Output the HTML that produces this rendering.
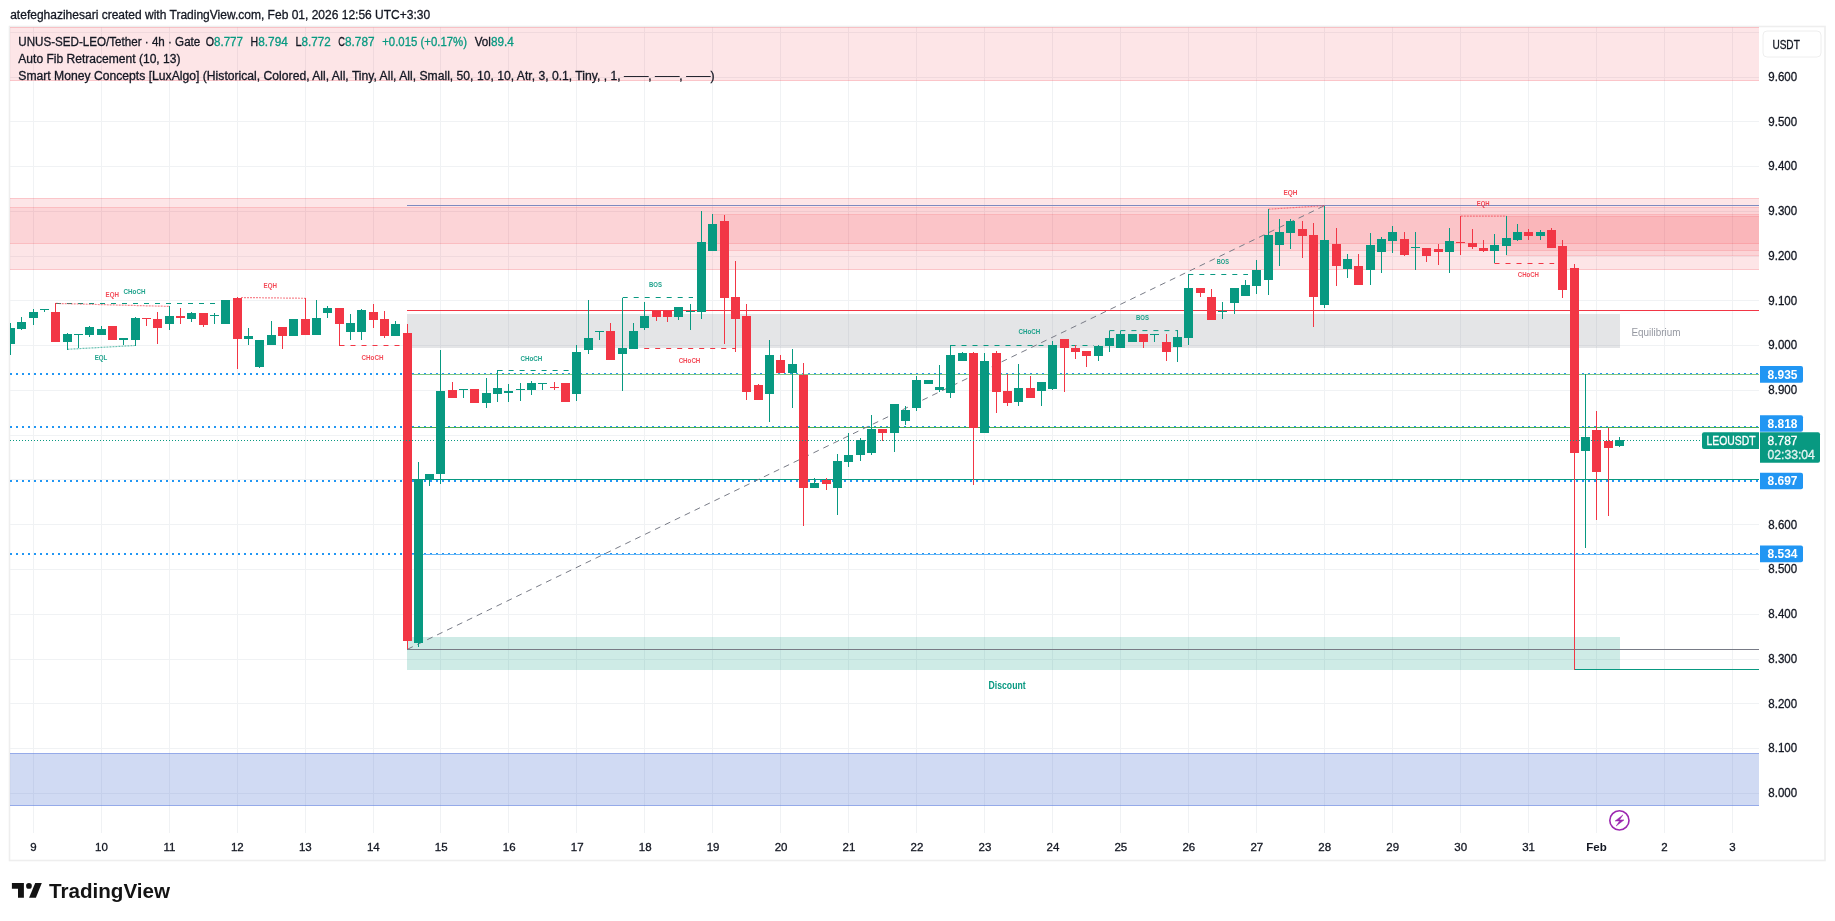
<!DOCTYPE html>
<html><head><meta charset="utf-8"><title>TradingView LEOUSDT</title>
<style>
html,body{margin:0;padding:0;background:#ffffff;width:1835px;height:921px;overflow:hidden;}
svg text{font-family:"Liberation Sans",sans-serif;}
svg{will-change:transform;}
</style></head><body>
<svg width="1835" height="921" viewBox="0 0 1835 921" style="position:absolute;left:0;top:0">
<defs><clipPath id="cl"><rect x="10" y="27" width="1749" height="806"/></clipPath></defs>
<rect x="9.5" y="26.5" width="1815.5" height="834" fill="none" stroke="#eeeeee" stroke-width="1.6"/>
<g clip-path="url(#cl)" shape-rendering="crispEdges">
<rect x="33" y="27" width="1" height="806" fill="#f0f2f4"/>
<rect x="101" y="27" width="1" height="806" fill="#f0f2f4"/>
<rect x="169" y="27" width="1" height="806" fill="#f0f2f4"/>
<rect x="237" y="27" width="1" height="806" fill="#f0f2f4"/>
<rect x="305" y="27" width="1" height="806" fill="#f0f2f4"/>
<rect x="373" y="27" width="1" height="806" fill="#f0f2f4"/>
<rect x="440" y="27" width="1" height="806" fill="#f0f2f4"/>
<rect x="508" y="27" width="1" height="806" fill="#f0f2f4"/>
<rect x="576" y="27" width="1" height="806" fill="#f0f2f4"/>
<rect x="644" y="27" width="1" height="806" fill="#f0f2f4"/>
<rect x="712" y="27" width="1" height="806" fill="#f0f2f4"/>
<rect x="780" y="27" width="1" height="806" fill="#f0f2f4"/>
<rect x="848" y="27" width="1" height="806" fill="#f0f2f4"/>
<rect x="916" y="27" width="1" height="806" fill="#f0f2f4"/>
<rect x="984" y="27" width="1" height="806" fill="#f0f2f4"/>
<rect x="1052" y="27" width="1" height="806" fill="#f0f2f4"/>
<rect x="1120" y="27" width="1" height="806" fill="#f0f2f4"/>
<rect x="1188" y="27" width="1" height="806" fill="#f0f2f4"/>
<rect x="1256" y="27" width="1" height="806" fill="#f0f2f4"/>
<rect x="1324" y="27" width="1" height="806" fill="#f0f2f4"/>
<rect x="1392" y="27" width="1" height="806" fill="#f0f2f4"/>
<rect x="1460" y="27" width="1" height="806" fill="#f0f2f4"/>
<rect x="1528" y="27" width="1" height="806" fill="#f0f2f4"/>
<rect x="1596" y="27" width="1" height="806" fill="#f0f2f4"/>
<rect x="1664" y="27" width="1" height="806" fill="#f0f2f4"/>
<rect x="1732" y="27" width="1" height="806" fill="#f0f2f4"/>
<rect x="10" y="32" width="1749" height="1" fill="#f0f2f4"/>
<rect x="10" y="77" width="1749" height="1" fill="#f0f2f4"/>
<rect x="10" y="121" width="1749" height="1" fill="#f0f2f4"/>
<rect x="10" y="166" width="1749" height="1" fill="#f0f2f4"/>
<rect x="10" y="211" width="1749" height="1" fill="#f0f2f4"/>
<rect x="10" y="256" width="1749" height="1" fill="#f0f2f4"/>
<rect x="10" y="300" width="1749" height="1" fill="#f0f2f4"/>
<rect x="10" y="345" width="1749" height="1" fill="#f0f2f4"/>
<rect x="10" y="390" width="1749" height="1" fill="#f0f2f4"/>
<rect x="10" y="435" width="1749" height="1" fill="#f0f2f4"/>
<rect x="10" y="479" width="1749" height="1" fill="#f0f2f4"/>
<rect x="10" y="524" width="1749" height="1" fill="#f0f2f4"/>
<rect x="10" y="569" width="1749" height="1" fill="#f0f2f4"/>
<rect x="10" y="614" width="1749" height="1" fill="#f0f2f4"/>
<rect x="10" y="659" width="1749" height="1" fill="#f0f2f4"/>
<rect x="10" y="703" width="1749" height="1" fill="#f0f2f4"/>
<rect x="10" y="748" width="1749" height="1" fill="#f0f2f4"/>
<rect x="10" y="793" width="1749" height="1" fill="#f0f2f4"/>
<rect x="10" y="27" width="1749" height="54" fill="#f23645" fill-opacity="0.13"/>
<rect x="10" y="27" width="1749" height="1" fill="#f23645" fill-opacity="0.18"/>
<rect x="10" y="80" width="1749" height="1" fill="#f23645" fill-opacity="0.18"/>
<rect x="10" y="198" width="1749" height="72" fill="#f23645" fill-opacity="0.13"/>
<rect x="10" y="198" width="1749" height="1" fill="#f23645" fill-opacity="0.18"/>
<rect x="10" y="269" width="1749" height="1" fill="#f23645" fill-opacity="0.18"/>
<rect x="10" y="207" width="1749" height="37" fill="#f23645" fill-opacity="0.1"/>
<rect x="10" y="207" width="1749" height="1" fill="#f23645" fill-opacity="0.15"/>
<rect x="10" y="243" width="1749" height="1" fill="#f23645" fill-opacity="0.15"/>
<rect x="713" y="214" width="1046" height="37" fill="#f23645" fill-opacity="0.1"/>
<rect x="713" y="214" width="1046" height="1" fill="#f23645" fill-opacity="0.12"/>
<rect x="713" y="250" width="1046" height="1" fill="#f23645" fill-opacity="0.12"/>
<rect x="1506" y="216" width="253" height="40" fill="#f23645" fill-opacity="0.1"/>
<rect x="1506" y="216" width="253" height="1" fill="#f23645" fill-opacity="0.12"/>
<rect x="1506" y="255" width="253" height="1" fill="#f23645" fill-opacity="0.12"/>
<rect x="10" y="753" width="1749" height="53" fill="#436bcf" fill-opacity="0.25"/>
<rect x="10" y="753" width="1749" height="1" fill="#5b7be0" fill-opacity="0.5"/>
<rect x="10" y="805" width="1749" height="1" fill="#5b7be0" fill-opacity="0.5"/>
<rect x="407" y="314" width="1213" height="34" fill="#787b86" fill-opacity="0.2"/>
<rect x="407" y="637" width="1213" height="33" fill="#089981" fill-opacity="0.2"/>
<rect x="407" y="205" width="1352" height="1" fill="#7e8bc0"/>
<rect x="407" y="310" width="1352" height="1" fill="#f23645"/>
<rect x="407" y="649" width="1352" height="1" fill="#787b86"/>
<rect x="1574" y="669" width="185" height="1" fill="#089981"/>
<line x1="10" y1="374" x2="1759" y2="374" stroke="#2196f3" stroke-width="2" stroke-dasharray="2 4"/>
<line x1="10" y1="427" x2="1759" y2="427" stroke="#2196f3" stroke-width="2" stroke-dasharray="2 4"/>
<line x1="10" y1="481" x2="1759" y2="481" stroke="#2196f3" stroke-width="2" stroke-dasharray="2 4"/>
<line x1="10" y1="554" x2="1759" y2="554" stroke="#2196f3" stroke-width="2" stroke-dasharray="2 4"/>
<rect x="412" y="374" width="1347" height="1" fill="#81c784"/>
<rect x="412" y="427" width="1347" height="1" fill="#4caf50"/>
<rect x="412" y="479" width="1347" height="1" fill="#089981"/>
<rect x="412" y="554" width="1347" height="1" fill="#64b5f6"/>
</g>
<line x1="407.4" y1="649.3" x2="1324.4" y2="205.7" stroke="#787b86" stroke-width="1" stroke-dasharray="6 5"/>
<line x1="56" y1="303.5" x2="226" y2="303.5" stroke="#089981" stroke-width="1" stroke-dasharray="5 6" stroke-opacity="1"/>
<line x1="55.7" y1="303.4" x2="169.3" y2="306.4" stroke="#f23645" stroke-width="1.2" stroke-dasharray="2 1" stroke-opacity="0.6"/>
<line x1="67.5" y1="349.3" x2="134.8" y2="345.5" stroke="#089981" stroke-width="1.2" stroke-dasharray="2 1" stroke-opacity="0.6"/>
<text x="112.3" y="296.5" font-size="7.5" font-weight="bold" fill="#f23645" fill-opacity="0.9" text-anchor="middle" textLength="13.4" lengthAdjust="spacingAndGlyphs">EQH</text>
<text x="134.5" y="293.5" font-size="7.5" font-weight="bold" fill="#089981" fill-opacity="0.9" text-anchor="middle" textLength="21.9" lengthAdjust="spacingAndGlyphs">CHoCH</text>
<text x="101" y="359.5" font-size="7.5" font-weight="bold" fill="#089981" fill-opacity="0.9" text-anchor="middle" textLength="12.7" lengthAdjust="spacingAndGlyphs">EQL</text>
<line x1="241" y1="297.5" x2="305.5" y2="298.3" stroke="#f23645" stroke-width="1.2" stroke-dasharray="2 1" stroke-opacity="0.6"/>
<text x="270.3" y="288" font-size="7.5" font-weight="bold" fill="#f23645" fill-opacity="0.9" text-anchor="middle" textLength="13.4" lengthAdjust="spacingAndGlyphs">EQH</text>
<line x1="339.5" y1="345.5" x2="407" y2="345.5" stroke="#f23645" stroke-width="1" stroke-dasharray="5 6" stroke-opacity="1"/>
<text x="372.5" y="359.5" font-size="7.5" font-weight="bold" fill="#f23645" fill-opacity="0.9" text-anchor="middle" textLength="21.9" lengthAdjust="spacingAndGlyphs">CHoCH</text>
<line x1="497.6" y1="370.5" x2="569.7" y2="370.5" stroke="#089981" stroke-width="1" stroke-dasharray="5 6" stroke-opacity="1"/>
<text x="531.4" y="360.5" font-size="7.5" font-weight="bold" fill="#089981" fill-opacity="0.9" text-anchor="middle" textLength="21.9" lengthAdjust="spacingAndGlyphs">CHoCH</text>
<line x1="622.7" y1="297.5" x2="693" y2="297.5" stroke="#089981" stroke-width="1" stroke-dasharray="5 6" stroke-opacity="1"/>
<text x="655.5" y="286.5" font-size="7.5" font-weight="bold" fill="#089981" fill-opacity="0.9" text-anchor="middle" textLength="13" lengthAdjust="spacingAndGlyphs">BOS</text>
<line x1="644.2" y1="348.5" x2="735.5" y2="348.5" stroke="#f23645" stroke-width="1" stroke-dasharray="5 6" stroke-opacity="1"/>
<text x="689.5" y="362.5" font-size="7.5" font-weight="bold" fill="#f23645" fill-opacity="0.9" text-anchor="middle" textLength="21.7" lengthAdjust="spacingAndGlyphs">CHoCH</text>
<line x1="950.5" y1="345.5" x2="1094" y2="345.5" stroke="#089981" stroke-width="1" stroke-dasharray="5 6" stroke-opacity="1"/>
<text x="1029.3" y="334.3" font-size="7.5" font-weight="bold" fill="#089981" fill-opacity="0.9" text-anchor="middle" textLength="21.7" lengthAdjust="spacingAndGlyphs">CHoCH</text>
<line x1="1109.4" y1="330.6" x2="1178" y2="330.6" stroke="#089981" stroke-width="1" stroke-dasharray="5 6" stroke-opacity="1"/>
<text x="1142.5" y="319.5" font-size="7.5" font-weight="bold" fill="#089981" fill-opacity="0.9" text-anchor="middle" textLength="13" lengthAdjust="spacingAndGlyphs">BOS</text>
<line x1="1188.3" y1="274.5" x2="1248" y2="274.5" stroke="#089981" stroke-width="1" stroke-dasharray="5 6" stroke-opacity="1"/>
<text x="1222.8" y="263.7" font-size="7.5" font-weight="bold" fill="#089981" fill-opacity="0.9" text-anchor="middle" textLength="12.2" lengthAdjust="spacingAndGlyphs">BOS</text>
<line x1="1268.5" y1="209.2" x2="1324.4" y2="205.7" stroke="#f23645" stroke-width="1.2" stroke-dasharray="2 1" stroke-opacity="0.6"/>
<text x="1290.5" y="194.5" font-size="7.5" font-weight="bold" fill="#f23645" fill-opacity="0.9" text-anchor="middle" textLength="13.9" lengthAdjust="spacingAndGlyphs">EQH</text>
<line x1="1460.8" y1="216.1" x2="1506.4" y2="216.1" stroke="#f23645" stroke-width="1.2" stroke-dasharray="2 1" stroke-opacity="0.6"/>
<text x="1483.2" y="206.4" font-size="7.5" font-weight="bold" fill="#f23645" fill-opacity="0.9" text-anchor="middle" textLength="12.9" lengthAdjust="spacingAndGlyphs">EQH</text>
<line x1="1494.5" y1="263.5" x2="1554.2" y2="263.5" stroke="#f23645" stroke-width="1" stroke-dasharray="5 6" stroke-opacity="1"/>
<text x="1528.4" y="276.7" font-size="7.5" font-weight="bold" fill="#f23645" fill-opacity="0.9" text-anchor="middle" textLength="21.2" lengthAdjust="spacingAndGlyphs">CHoCH</text>
<g shape-rendering="crispEdges">
<rect x="10" y="323" width="1" height="32" fill="#089981"/>
<rect x="10" y="328" width="5" height="16" fill="#089981"/>
<rect x="21" y="317" width="1" height="13" fill="#089981"/>
<rect x="17" y="322" width="9" height="7" fill="#089981"/>
<rect x="33" y="309" width="1" height="16" fill="#089981"/>
<rect x="29" y="312" width="9" height="6" fill="#089981"/>
<rect x="44" y="309" width="1" height="3" fill="#089981"/>
<rect x="40" y="309" width="9" height="1" fill="#089981"/>
<rect x="55" y="303" width="1" height="39" fill="#f23645"/>
<rect x="51" y="312" width="9" height="30" fill="#f23645"/>
<rect x="67" y="333" width="1" height="17" fill="#089981"/>
<rect x="63" y="334" width="9" height="8" fill="#089981"/>
<rect x="78" y="334" width="1" height="14" fill="#089981"/>
<rect x="74" y="334" width="9" height="1" fill="#089981"/>
<rect x="89" y="326" width="1" height="11" fill="#089981"/>
<rect x="85" y="327" width="9" height="8" fill="#089981"/>
<rect x="101" y="326" width="1" height="9" fill="#089981"/>
<rect x="97" y="329" width="9" height="6" fill="#089981"/>
<rect x="112" y="326" width="1" height="14" fill="#f23645"/>
<rect x="108" y="326" width="9" height="14" fill="#f23645"/>
<rect x="123" y="338" width="1" height="7" fill="#089981"/>
<rect x="119" y="338" width="9" height="2" fill="#089981"/>
<rect x="135" y="317" width="1" height="29" fill="#089981"/>
<rect x="131" y="318" width="9" height="22" fill="#089981"/>
<rect x="146" y="318" width="1" height="8" fill="#f23645"/>
<rect x="142" y="318" width="9" height="1" fill="#f23645"/>
<rect x="157" y="312" width="1" height="32" fill="#f23645"/>
<rect x="153" y="319" width="9" height="9" fill="#f23645"/>
<rect x="169" y="306" width="1" height="24" fill="#089981"/>
<rect x="165" y="316" width="9" height="8" fill="#089981"/>
<rect x="180" y="308" width="1" height="16" fill="#f23645"/>
<rect x="176" y="316" width="9" height="2" fill="#f23645"/>
<rect x="191" y="312" width="1" height="10" fill="#089981"/>
<rect x="187" y="313" width="9" height="6" fill="#089981"/>
<rect x="203" y="313" width="1" height="14" fill="#f23645"/>
<rect x="199" y="313" width="9" height="12" fill="#f23645"/>
<rect x="214" y="313" width="1" height="11" fill="#089981"/>
<rect x="210" y="315" width="9" height="1" fill="#089981"/>
<rect x="225" y="300" width="1" height="24" fill="#089981"/>
<rect x="221" y="300" width="9" height="24" fill="#089981"/>
<rect x="237" y="297" width="1" height="72" fill="#f23645"/>
<rect x="233" y="298" width="9" height="41" fill="#f23645"/>
<rect x="248" y="328" width="1" height="17" fill="#089981"/>
<rect x="244" y="336" width="9" height="3" fill="#089981"/>
<rect x="259" y="340" width="1" height="28" fill="#089981"/>
<rect x="255" y="340" width="9" height="27" fill="#089981"/>
<rect x="271" y="321" width="1" height="24" fill="#089981"/>
<rect x="267" y="335" width="9" height="10" fill="#089981"/>
<rect x="282" y="327" width="1" height="22" fill="#f23645"/>
<rect x="278" y="327" width="9" height="9" fill="#f23645"/>
<rect x="293" y="319" width="1" height="17" fill="#089981"/>
<rect x="289" y="319" width="9" height="17" fill="#089981"/>
<rect x="305" y="298" width="1" height="37" fill="#f23645"/>
<rect x="301" y="319" width="9" height="16" fill="#f23645"/>
<rect x="316" y="300" width="1" height="35" fill="#089981"/>
<rect x="312" y="318" width="9" height="17" fill="#089981"/>
<rect x="327" y="306" width="1" height="12" fill="#089981"/>
<rect x="323" y="308" width="9" height="5" fill="#089981"/>
<rect x="339" y="308" width="1" height="38" fill="#f23645"/>
<rect x="335" y="308" width="9" height="16" fill="#f23645"/>
<rect x="350" y="314" width="1" height="26" fill="#089981"/>
<rect x="346" y="323" width="9" height="9" fill="#089981"/>
<rect x="361" y="309" width="1" height="31" fill="#089981"/>
<rect x="357" y="310" width="9" height="22" fill="#089981"/>
<rect x="373" y="304" width="1" height="24" fill="#f23645"/>
<rect x="369" y="312" width="9" height="8" fill="#f23645"/>
<rect x="384" y="311" width="1" height="27" fill="#f23645"/>
<rect x="380" y="319" width="9" height="17" fill="#f23645"/>
<rect x="395" y="321" width="1" height="15" fill="#089981"/>
<rect x="391" y="324" width="9" height="12" fill="#089981"/>
<rect x="407" y="324" width="1" height="325" fill="#f23645"/>
<rect x="403" y="333" width="9" height="308" fill="#f23645"/>
<rect x="418" y="462" width="1" height="185" fill="#089981"/>
<rect x="414" y="480" width="9" height="163" fill="#089981"/>
<rect x="429" y="474" width="1" height="12" fill="#089981"/>
<rect x="425" y="474" width="9" height="6" fill="#089981"/>
<rect x="440" y="350" width="1" height="134" fill="#089981"/>
<rect x="436" y="391" width="9" height="83" fill="#089981"/>
<rect x="452" y="382" width="1" height="16" fill="#f23645"/>
<rect x="448" y="390" width="9" height="8" fill="#f23645"/>
<rect x="463" y="389" width="1" height="9" fill="#089981"/>
<rect x="459" y="389" width="9" height="1" fill="#089981"/>
<rect x="474" y="389" width="1" height="14" fill="#f23645"/>
<rect x="470" y="389" width="9" height="14" fill="#f23645"/>
<rect x="486" y="378" width="1" height="30" fill="#089981"/>
<rect x="482" y="393" width="9" height="10" fill="#089981"/>
<rect x="497" y="370" width="1" height="32" fill="#089981"/>
<rect x="493" y="388" width="9" height="6" fill="#089981"/>
<rect x="508" y="384" width="1" height="18" fill="#089981"/>
<rect x="504" y="391" width="9" height="2" fill="#089981"/>
<rect x="520" y="383" width="1" height="18" fill="#089981"/>
<rect x="516" y="389" width="9" height="1" fill="#089981"/>
<rect x="531" y="381" width="1" height="14" fill="#089981"/>
<rect x="527" y="383" width="9" height="7" fill="#089981"/>
<rect x="542" y="383" width="1" height="7" fill="#089981"/>
<rect x="538" y="383" width="9" height="1" fill="#089981"/>
<rect x="554" y="382" width="1" height="8" fill="#f23645"/>
<rect x="550" y="387" width="9" height="1" fill="#f23645"/>
<rect x="565" y="383" width="1" height="19" fill="#f23645"/>
<rect x="561" y="383" width="9" height="19" fill="#f23645"/>
<rect x="576" y="345" width="1" height="56" fill="#089981"/>
<rect x="572" y="352" width="9" height="42" fill="#089981"/>
<rect x="588" y="300" width="1" height="54" fill="#089981"/>
<rect x="584" y="338" width="9" height="12" fill="#089981"/>
<rect x="599" y="331" width="1" height="9" fill="#089981"/>
<rect x="595" y="331" width="9" height="1" fill="#089981"/>
<rect x="610" y="323" width="1" height="37" fill="#f23645"/>
<rect x="606" y="331" width="9" height="29" fill="#f23645"/>
<rect x="622" y="298" width="1" height="93" fill="#089981"/>
<rect x="618" y="348" width="9" height="6" fill="#089981"/>
<rect x="633" y="323" width="1" height="26" fill="#089981"/>
<rect x="629" y="331" width="9" height="18" fill="#089981"/>
<rect x="644" y="302" width="1" height="28" fill="#089981"/>
<rect x="640" y="316" width="9" height="12" fill="#089981"/>
<rect x="656" y="310" width="1" height="11" fill="#f23645"/>
<rect x="652" y="310" width="9" height="7" fill="#f23645"/>
<rect x="667" y="310" width="1" height="12" fill="#f23645"/>
<rect x="663" y="310" width="9" height="7" fill="#f23645"/>
<rect x="678" y="307" width="1" height="13" fill="#089981"/>
<rect x="674" y="307" width="9" height="10" fill="#089981"/>
<rect x="690" y="304" width="1" height="26" fill="#089981"/>
<rect x="686" y="311" width="9" height="1" fill="#089981"/>
<rect x="701" y="211" width="1" height="108" fill="#089981"/>
<rect x="697" y="242" width="9" height="70" fill="#089981"/>
<rect x="712" y="214" width="1" height="37" fill="#089981"/>
<rect x="708" y="224" width="9" height="27" fill="#089981"/>
<rect x="724" y="215" width="1" height="129" fill="#f23645"/>
<rect x="720" y="221" width="9" height="77" fill="#f23645"/>
<rect x="735" y="261" width="1" height="91" fill="#f23645"/>
<rect x="731" y="297" width="9" height="22" fill="#f23645"/>
<rect x="746" y="304" width="1" height="96" fill="#f23645"/>
<rect x="742" y="316" width="9" height="76" fill="#f23645"/>
<rect x="758" y="384" width="1" height="16" fill="#f23645"/>
<rect x="754" y="385" width="9" height="15" fill="#f23645"/>
<rect x="769" y="340" width="1" height="82" fill="#089981"/>
<rect x="765" y="355" width="9" height="39" fill="#089981"/>
<rect x="780" y="355" width="1" height="18" fill="#f23645"/>
<rect x="776" y="360" width="9" height="13" fill="#f23645"/>
<rect x="792" y="349" width="1" height="59" fill="#089981"/>
<rect x="788" y="364" width="9" height="9" fill="#089981"/>
<rect x="803" y="363" width="1" height="163" fill="#f23645"/>
<rect x="799" y="375" width="9" height="113" fill="#f23645"/>
<rect x="814" y="478" width="1" height="10" fill="#089981"/>
<rect x="810" y="483" width="9" height="5" fill="#089981"/>
<rect x="826" y="478" width="1" height="12" fill="#f23645"/>
<rect x="822" y="480" width="9" height="4" fill="#f23645"/>
<rect x="837" y="454" width="1" height="61" fill="#089981"/>
<rect x="833" y="461" width="9" height="27" fill="#089981"/>
<rect x="848" y="433" width="1" height="34" fill="#089981"/>
<rect x="844" y="455" width="9" height="7" fill="#089981"/>
<rect x="860" y="438" width="1" height="23" fill="#089981"/>
<rect x="856" y="440" width="9" height="15" fill="#089981"/>
<rect x="871" y="415" width="1" height="40" fill="#089981"/>
<rect x="867" y="429" width="9" height="24" fill="#089981"/>
<rect x="882" y="429" width="1" height="12" fill="#f23645"/>
<rect x="878" y="429" width="9" height="4" fill="#f23645"/>
<rect x="894" y="404" width="1" height="48" fill="#089981"/>
<rect x="890" y="404" width="9" height="29" fill="#089981"/>
<rect x="905" y="406" width="1" height="19" fill="#089981"/>
<rect x="901" y="410" width="9" height="11" fill="#089981"/>
<rect x="916" y="376" width="1" height="35" fill="#089981"/>
<rect x="912" y="380" width="9" height="28" fill="#089981"/>
<rect x="928" y="380" width="1" height="4" fill="#089981"/>
<rect x="924" y="380" width="9" height="4" fill="#089981"/>
<rect x="939" y="365" width="1" height="27" fill="#089981"/>
<rect x="935" y="387" width="9" height="3" fill="#089981"/>
<rect x="950" y="345" width="1" height="53" fill="#089981"/>
<rect x="946" y="355" width="9" height="38" fill="#089981"/>
<rect x="962" y="352" width="1" height="9" fill="#089981"/>
<rect x="958" y="353" width="9" height="8" fill="#089981"/>
<rect x="973" y="352" width="1" height="133" fill="#f23645"/>
<rect x="969" y="353" width="9" height="75" fill="#f23645"/>
<rect x="984" y="353" width="1" height="80" fill="#089981"/>
<rect x="980" y="361" width="9" height="72" fill="#089981"/>
<rect x="996" y="351" width="1" height="62" fill="#f23645"/>
<rect x="992" y="353" width="9" height="39" fill="#f23645"/>
<rect x="1007" y="374" width="1" height="32" fill="#f23645"/>
<rect x="1003" y="391" width="9" height="12" fill="#f23645"/>
<rect x="1018" y="364" width="1" height="42" fill="#089981"/>
<rect x="1014" y="388" width="9" height="14" fill="#089981"/>
<rect x="1030" y="376" width="1" height="22" fill="#f23645"/>
<rect x="1026" y="388" width="9" height="10" fill="#f23645"/>
<rect x="1041" y="382" width="1" height="24" fill="#089981"/>
<rect x="1037" y="382" width="9" height="9" fill="#089981"/>
<rect x="1052" y="341" width="1" height="49" fill="#089981"/>
<rect x="1048" y="345" width="9" height="44" fill="#089981"/>
<rect x="1064" y="339" width="1" height="53" fill="#f23645"/>
<rect x="1060" y="339" width="9" height="9" fill="#f23645"/>
<rect x="1075" y="345" width="1" height="14" fill="#f23645"/>
<rect x="1071" y="348" width="9" height="4" fill="#f23645"/>
<rect x="1086" y="351" width="1" height="16" fill="#f23645"/>
<rect x="1082" y="351" width="9" height="5" fill="#f23645"/>
<rect x="1098" y="345" width="1" height="16" fill="#089981"/>
<rect x="1094" y="346" width="9" height="10" fill="#089981"/>
<rect x="1109" y="331" width="1" height="21" fill="#089981"/>
<rect x="1105" y="338" width="9" height="8" fill="#089981"/>
<rect x="1120" y="331" width="1" height="17" fill="#089981"/>
<rect x="1116" y="334" width="9" height="14" fill="#089981"/>
<rect x="1132" y="334" width="1" height="8" fill="#089981"/>
<rect x="1128" y="334" width="9" height="8" fill="#089981"/>
<rect x="1143" y="334" width="1" height="14" fill="#f23645"/>
<rect x="1139" y="334" width="9" height="8" fill="#f23645"/>
<rect x="1154" y="334" width="1" height="8" fill="#089981"/>
<rect x="1150" y="334" width="9" height="1" fill="#089981"/>
<rect x="1166" y="334" width="1" height="27" fill="#f23645"/>
<rect x="1162" y="342" width="9" height="10" fill="#f23645"/>
<rect x="1177" y="330" width="1" height="32" fill="#089981"/>
<rect x="1173" y="337" width="9" height="10" fill="#089981"/>
<rect x="1188" y="274" width="1" height="71" fill="#089981"/>
<rect x="1184" y="288" width="9" height="50" fill="#089981"/>
<rect x="1200" y="288" width="1" height="9" fill="#f23645"/>
<rect x="1196" y="288" width="9" height="5" fill="#f23645"/>
<rect x="1211" y="289" width="1" height="31" fill="#f23645"/>
<rect x="1207" y="297" width="9" height="23" fill="#f23645"/>
<rect x="1222" y="302" width="1" height="17" fill="#089981"/>
<rect x="1218" y="311" width="9" height="1" fill="#089981"/>
<rect x="1234" y="288" width="1" height="26" fill="#089981"/>
<rect x="1230" y="288" width="9" height="15" fill="#089981"/>
<rect x="1245" y="280" width="1" height="16" fill="#089981"/>
<rect x="1241" y="285" width="9" height="11" fill="#089981"/>
<rect x="1256" y="260" width="1" height="34" fill="#089981"/>
<rect x="1252" y="270" width="9" height="16" fill="#089981"/>
<rect x="1268" y="209" width="1" height="86" fill="#089981"/>
<rect x="1264" y="235" width="9" height="45" fill="#089981"/>
<rect x="1279" y="219" width="1" height="47" fill="#089981"/>
<rect x="1275" y="232" width="9" height="13" fill="#089981"/>
<rect x="1290" y="219" width="1" height="30" fill="#089981"/>
<rect x="1286" y="221" width="9" height="12" fill="#089981"/>
<rect x="1302" y="221" width="1" height="37" fill="#f23645"/>
<rect x="1298" y="229" width="9" height="7" fill="#f23645"/>
<rect x="1313" y="223" width="1" height="104" fill="#f23645"/>
<rect x="1309" y="235" width="9" height="62" fill="#f23645"/>
<rect x="1324" y="206" width="1" height="102" fill="#089981"/>
<rect x="1320" y="240" width="9" height="65" fill="#089981"/>
<rect x="1336" y="228" width="1" height="58" fill="#f23645"/>
<rect x="1332" y="244" width="9" height="22" fill="#f23645"/>
<rect x="1347" y="254" width="1" height="24" fill="#089981"/>
<rect x="1343" y="259" width="9" height="10" fill="#089981"/>
<rect x="1358" y="254" width="1" height="31" fill="#f23645"/>
<rect x="1354" y="266" width="9" height="19" fill="#f23645"/>
<rect x="1370" y="233" width="1" height="52" fill="#089981"/>
<rect x="1366" y="245" width="9" height="25" fill="#089981"/>
<rect x="1381" y="237" width="1" height="36" fill="#089981"/>
<rect x="1377" y="239" width="9" height="13" fill="#089981"/>
<rect x="1392" y="226" width="1" height="27" fill="#089981"/>
<rect x="1388" y="232" width="9" height="9" fill="#089981"/>
<rect x="1404" y="232" width="1" height="24" fill="#f23645"/>
<rect x="1400" y="239" width="9" height="16" fill="#f23645"/>
<rect x="1415" y="232" width="1" height="38" fill="#089981"/>
<rect x="1411" y="247" width="9" height="1" fill="#089981"/>
<rect x="1426" y="248" width="1" height="14" fill="#f23645"/>
<rect x="1422" y="248" width="9" height="8" fill="#f23645"/>
<rect x="1438" y="244" width="1" height="21" fill="#f23645"/>
<rect x="1434" y="249" width="9" height="3" fill="#f23645"/>
<rect x="1449" y="228" width="1" height="45" fill="#089981"/>
<rect x="1445" y="241" width="9" height="11" fill="#089981"/>
<rect x="1460" y="216" width="1" height="39" fill="#f23645"/>
<rect x="1456" y="242" width="9" height="1" fill="#f23645"/>
<rect x="1472" y="229" width="1" height="20" fill="#f23645"/>
<rect x="1468" y="243" width="9" height="4" fill="#f23645"/>
<rect x="1483" y="240" width="1" height="12" fill="#f23645"/>
<rect x="1479" y="248" width="9" height="3" fill="#f23645"/>
<rect x="1494" y="234" width="1" height="29" fill="#089981"/>
<rect x="1490" y="245" width="9" height="6" fill="#089981"/>
<rect x="1506" y="216" width="1" height="39" fill="#089981"/>
<rect x="1502" y="238" width="9" height="8" fill="#089981"/>
<rect x="1517" y="224" width="1" height="17" fill="#089981"/>
<rect x="1513" y="232" width="9" height="8" fill="#089981"/>
<rect x="1528" y="229" width="1" height="11" fill="#f23645"/>
<rect x="1524" y="232" width="9" height="4" fill="#f23645"/>
<rect x="1540" y="230" width="1" height="10" fill="#089981"/>
<rect x="1536" y="232" width="9" height="4" fill="#089981"/>
<rect x="1551" y="228" width="1" height="20" fill="#f23645"/>
<rect x="1547" y="230" width="9" height="18" fill="#f23645"/>
<rect x="1562" y="240" width="1" height="58" fill="#f23645"/>
<rect x="1558" y="246" width="9" height="44" fill="#f23645"/>
<rect x="1574" y="264" width="1" height="406" fill="#f23645"/>
<rect x="1570" y="268" width="9" height="185" fill="#f23645"/>
<rect x="1585" y="374" width="1" height="174" fill="#089981"/>
<rect x="1581" y="437" width="9" height="14" fill="#089981"/>
<rect x="1596" y="411" width="1" height="109" fill="#f23645"/>
<rect x="1592" y="430" width="9" height="42" fill="#f23645"/>
<rect x="1608" y="428" width="1" height="88" fill="#f23645"/>
<rect x="1604" y="441" width="9" height="7" fill="#f23645"/>
<rect x="1619" y="437" width="1" height="10" fill="#089981"/>
<rect x="1615" y="440" width="9" height="6" fill="#089981"/>
</g>
<line x1="10" y1="440.5" x2="1702" y2="440.5" stroke="#089981" stroke-width="1" stroke-dasharray="1 2"/>
<text x="1631.5" y="335.5" font-size="10" fill="#9598a1" textLength="49" lengthAdjust="spacingAndGlyphs">Equilibrium</text>
<text x="988.6" y="689" font-size="10" font-weight="bold" fill="#089981" textLength="37" lengthAdjust="spacingAndGlyphs">Discount</text>
<rect x="1763" y="31" width="58" height="26" rx="4" ry="4" fill="#fff" stroke="#eeeeee" stroke-width="1"/>
<text stroke="#131722" stroke-width="0.3" x="1772.4" y="48.8" font-size="12" fill="#131722" textLength="27.4" lengthAdjust="spacingAndGlyphs">USDT</text>
<text stroke="#131722" stroke-width="0.3" x="1768.3" y="80.8" font-size="12" fill="#131722" textLength="28.8" lengthAdjust="spacingAndGlyphs">9.600</text>
<text stroke="#131722" stroke-width="0.3" x="1768.3" y="125.6" font-size="12" fill="#131722" textLength="28.8" lengthAdjust="spacingAndGlyphs">9.500</text>
<text stroke="#131722" stroke-width="0.3" x="1768.3" y="170.4" font-size="12" fill="#131722" textLength="28.8" lengthAdjust="spacingAndGlyphs">9.400</text>
<text stroke="#131722" stroke-width="0.3" x="1768.3" y="215.1" font-size="12" fill="#131722" textLength="28.8" lengthAdjust="spacingAndGlyphs">9.300</text>
<text stroke="#131722" stroke-width="0.3" x="1768.3" y="259.9" font-size="12" fill="#131722" textLength="28.8" lengthAdjust="spacingAndGlyphs">9.200</text>
<text stroke="#131722" stroke-width="0.3" x="1768.3" y="304.7" font-size="12" fill="#131722" textLength="28.8" lengthAdjust="spacingAndGlyphs">9.100</text>
<text stroke="#131722" stroke-width="0.3" x="1768.3" y="349.4" font-size="12" fill="#131722" textLength="28.8" lengthAdjust="spacingAndGlyphs">9.000</text>
<text stroke="#131722" stroke-width="0.3" x="1768.3" y="394.2" font-size="12" fill="#131722" textLength="28.8" lengthAdjust="spacingAndGlyphs">8.900</text>
<text stroke="#131722" stroke-width="0.3" x="1768.3" y="528.5" font-size="12" fill="#131722" textLength="28.8" lengthAdjust="spacingAndGlyphs">8.600</text>
<text stroke="#131722" stroke-width="0.3" x="1768.3" y="573.3" font-size="12" fill="#131722" textLength="28.8" lengthAdjust="spacingAndGlyphs">8.500</text>
<text stroke="#131722" stroke-width="0.3" x="1768.3" y="618.1" font-size="12" fill="#131722" textLength="28.8" lengthAdjust="spacingAndGlyphs">8.400</text>
<text stroke="#131722" stroke-width="0.3" x="1768.3" y="662.8" font-size="12" fill="#131722" textLength="28.8" lengthAdjust="spacingAndGlyphs">8.300</text>
<text stroke="#131722" stroke-width="0.3" x="1768.3" y="707.6" font-size="12" fill="#131722" textLength="28.8" lengthAdjust="spacingAndGlyphs">8.200</text>
<text stroke="#131722" stroke-width="0.3" x="1768.3" y="752.4" font-size="12" fill="#131722" textLength="28.8" lengthAdjust="spacingAndGlyphs">8.100</text>
<text stroke="#131722" stroke-width="0.3" x="1768.3" y="797.1" font-size="12" fill="#131722" textLength="28.8" lengthAdjust="spacingAndGlyphs">8.000</text>
<path d="M1760 366 H1801 a2 2 0 0 1 2 2 V380.7 a2 2 0 0 1 -2 2 H1760 Z" fill="#2196f3"/>
<text x="1767.6" y="378.5" font-size="12" font-weight="bold" fill="#fff" textLength="29.9" lengthAdjust="spacingAndGlyphs">8.935</text>
<path d="M1760 415.2 H1801 a2 2 0 0 1 2 2 V429.7 a2 2 0 0 1 -2 2 H1760 Z" fill="#2196f3"/>
<text x="1767.6" y="427.5" font-size="12" font-weight="bold" fill="#fff" textLength="29.9" lengthAdjust="spacingAndGlyphs">8.818</text>
<path d="M1760 472.7 H1801 a2 2 0 0 1 2 2 V487.3 a2 2 0 0 1 -2 2 H1760 Z" fill="#2196f3"/>
<text x="1767.6" y="485.1" font-size="12" font-weight="bold" fill="#fff" textLength="29.9" lengthAdjust="spacingAndGlyphs">8.697</text>
<path d="M1760 545.6 H1801 a2 2 0 0 1 2 2 V560.3 a2 2 0 0 1 -2 2 H1760 Z" fill="#2196f3"/>
<text x="1767.6" y="558.0999999999999" font-size="12" font-weight="bold" fill="#fff" textLength="29.9" lengthAdjust="spacingAndGlyphs">8.534</text>
<path d="M1760 432.3 H1818 a2 2 0 0 1 2 2 V460.7 a2 2 0 0 1 -2 2 H1760 Z" fill="#089981"/>
<text stroke="#fff" stroke-width="0.3" x="1767.6" y="444.8" font-size="12" fill="#fff" textLength="29.9" lengthAdjust="spacingAndGlyphs">8.787</text>
<text stroke="#fff" stroke-width="0.3" x="1767.6" y="459.1" font-size="12" fill="#fff" fill-opacity="0.8" textLength="47.2" lengthAdjust="spacingAndGlyphs">02:33:04</text>
<path d="M1759 432.3 V449 H1704 a2 2 0 0 1 -2 -2 V434.3 a2 2 0 0 1 2 -2 Z" fill="#089981"/>
<text stroke="#fff" stroke-width="0.3" x="1706.5" y="444.8" font-size="12" fill="#fff" textLength="49" lengthAdjust="spacingAndGlyphs">LEOUSDT</text>
<text stroke="#131722" stroke-width="0.3" x="33.5" y="851" font-size="11.5" fill="#131722" text-anchor="middle">9</text>
<text stroke="#131722" stroke-width="0.3" x="101.46" y="851" font-size="11.5" fill="#131722" text-anchor="middle">10</text>
<text stroke="#131722" stroke-width="0.3" x="169.42" y="851" font-size="11.5" fill="#131722" text-anchor="middle">11</text>
<text stroke="#131722" stroke-width="0.3" x="237.38" y="851" font-size="11.5" fill="#131722" text-anchor="middle">12</text>
<text stroke="#131722" stroke-width="0.3" x="305.34" y="851" font-size="11.5" fill="#131722" text-anchor="middle">13</text>
<text stroke="#131722" stroke-width="0.3" x="373.29999999999995" y="851" font-size="11.5" fill="#131722" text-anchor="middle">14</text>
<text stroke="#131722" stroke-width="0.3" x="441.26" y="851" font-size="11.5" fill="#131722" text-anchor="middle">15</text>
<text stroke="#131722" stroke-width="0.3" x="509.21999999999997" y="851" font-size="11.5" fill="#131722" text-anchor="middle">16</text>
<text stroke="#131722" stroke-width="0.3" x="577.18" y="851" font-size="11.5" fill="#131722" text-anchor="middle">17</text>
<text stroke="#131722" stroke-width="0.3" x="645.14" y="851" font-size="11.5" fill="#131722" text-anchor="middle">18</text>
<text stroke="#131722" stroke-width="0.3" x="713.0999999999999" y="851" font-size="11.5" fill="#131722" text-anchor="middle">19</text>
<text stroke="#131722" stroke-width="0.3" x="781.06" y="851" font-size="11.5" fill="#131722" text-anchor="middle">20</text>
<text stroke="#131722" stroke-width="0.3" x="849.02" y="851" font-size="11.5" fill="#131722" text-anchor="middle">21</text>
<text stroke="#131722" stroke-width="0.3" x="916.9799999999999" y="851" font-size="11.5" fill="#131722" text-anchor="middle">22</text>
<text stroke="#131722" stroke-width="0.3" x="984.9399999999999" y="851" font-size="11.5" fill="#131722" text-anchor="middle">23</text>
<text stroke="#131722" stroke-width="0.3" x="1052.8999999999999" y="851" font-size="11.5" fill="#131722" text-anchor="middle">24</text>
<text stroke="#131722" stroke-width="0.3" x="1120.86" y="851" font-size="11.5" fill="#131722" text-anchor="middle">25</text>
<text stroke="#131722" stroke-width="0.3" x="1188.82" y="851" font-size="11.5" fill="#131722" text-anchor="middle">26</text>
<text stroke="#131722" stroke-width="0.3" x="1256.78" y="851" font-size="11.5" fill="#131722" text-anchor="middle">27</text>
<text stroke="#131722" stroke-width="0.3" x="1324.7399999999998" y="851" font-size="11.5" fill="#131722" text-anchor="middle">28</text>
<text stroke="#131722" stroke-width="0.3" x="1392.6999999999998" y="851" font-size="11.5" fill="#131722" text-anchor="middle">29</text>
<text stroke="#131722" stroke-width="0.3" x="1460.6599999999999" y="851" font-size="11.5" fill="#131722" text-anchor="middle">30</text>
<text stroke="#131722" stroke-width="0.3" x="1528.62" y="851" font-size="11.5" fill="#131722" text-anchor="middle">31</text>
<text x="1596.58" y="851" font-size="11.5" font-weight="bold" fill="#131722" text-anchor="middle">Feb</text>
<text stroke="#131722" stroke-width="0.3" x="1664.54" y="851" font-size="11.5" fill="#131722" text-anchor="middle">2</text>
<text stroke="#131722" stroke-width="0.3" x="1732.4999999999998" y="851" font-size="11.5" fill="#131722" text-anchor="middle">3</text>
<circle cx="1619.4" cy="820.4" r="9.6" fill="#fff" stroke="#9c27b0" stroke-width="1.6"/>
<path d="M1622.9 814.9 L1615.1 821.0 H1619.6 L1616.2 826.0 L1624.0 819.9 H1619.5 Z" fill="#9c27b0" stroke="#9c27b0" stroke-width="0.5" stroke-linejoin="round"/>
<text stroke="#131722" stroke-width="0.3" x="10.2" y="19" font-size="12.5" fill="#131722" textLength="420" lengthAdjust="spacingAndGlyphs">atefeghazihesari created with TradingView.com, Feb 01, 2026 12:56 UTC+3:30</text>
<text stroke="#131722" stroke-width="0.3" x="18.3" y="45.8" font-size="12" fill="#131722" textLength="182" lengthAdjust="spacingAndGlyphs">UNUS-SED-LEO/Tether · 4h · Gate</text>
<text stroke="#131722" stroke-width="0.3" x="205.7" y="45.8" font-size="12" fill="#131722" textLength="8.3" lengthAdjust="spacingAndGlyphs">O</text>
<text stroke="#089981" stroke-width="0.3" x="214" y="45.8" font-size="12" fill="#089981" textLength="29" lengthAdjust="spacingAndGlyphs">8.777</text>
<text stroke="#131722" stroke-width="0.3" x="250.6" y="45.8" font-size="12" fill="#131722" textLength="7.6" lengthAdjust="spacingAndGlyphs">H</text>
<text stroke="#089981" stroke-width="0.3" x="258.2" y="45.8" font-size="12" fill="#089981" textLength="29.6" lengthAdjust="spacingAndGlyphs">8.794</text>
<text stroke="#131722" stroke-width="0.3" x="295.4" y="45.8" font-size="12" fill="#131722" textLength="6.1" lengthAdjust="spacingAndGlyphs">L</text>
<text stroke="#089981" stroke-width="0.3" x="301.5" y="45.8" font-size="12" fill="#089981" textLength="29.2" lengthAdjust="spacingAndGlyphs">8.772</text>
<text stroke="#131722" stroke-width="0.3" x="338.3" y="45.8" font-size="12" fill="#131722" textLength="6.7" lengthAdjust="spacingAndGlyphs">C</text>
<text stroke="#089981" stroke-width="0.3" x="345" y="45.8" font-size="12" fill="#089981" textLength="29.5" lengthAdjust="spacingAndGlyphs">8.787</text>
<text stroke="#089981" stroke-width="0.3" x="382.2" y="45.8" font-size="12" fill="#089981" textLength="84.8" lengthAdjust="spacingAndGlyphs">+0.015 (+0.17%)</text>
<text stroke="#131722" stroke-width="0.3" x="474.7" y="45.8" font-size="12" fill="#131722" textLength="16.2" lengthAdjust="spacingAndGlyphs">Vol</text>
<text stroke="#089981" stroke-width="0.3" x="490.9" y="45.8" font-size="12" fill="#089981" textLength="22.9" lengthAdjust="spacingAndGlyphs">89.4</text>
<text stroke="#131722" stroke-width="0.3" x="18.3" y="62.8" font-size="12" fill="#131722" textLength="162.2" lengthAdjust="spacingAndGlyphs">Auto Fib Retracement (10, 13)</text>
<text stroke="#131722" stroke-width="0.3" x="18.3" y="79.8" font-size="12" fill="#131722" textLength="696.2" lengthAdjust="spacingAndGlyphs">Smart Money Concepts [LuxAlgo] (Historical, Colored, All, All, Tiny, All, All, Small, 50, 10, 10, Atr, 3, 0.1, Tiny, , 1, ——, ——, ——)</text>
<g fill="#131313">
<path d="M11.9 883.1 H23.9 V897.7 H18 V888.8 H11.9 Z"/>
<circle cx="28.95" cy="885.9" r="2.85"/>
<path d="M35.2 883.1 H41.8 L35.9 897.7 H29.1 Z"/>
</g>
<text x="49" y="897.7" font-size="20.4" font-weight="bold" fill="#131313" textLength="121" lengthAdjust="spacingAndGlyphs">TradingView</text>
</svg>
</body></html>
